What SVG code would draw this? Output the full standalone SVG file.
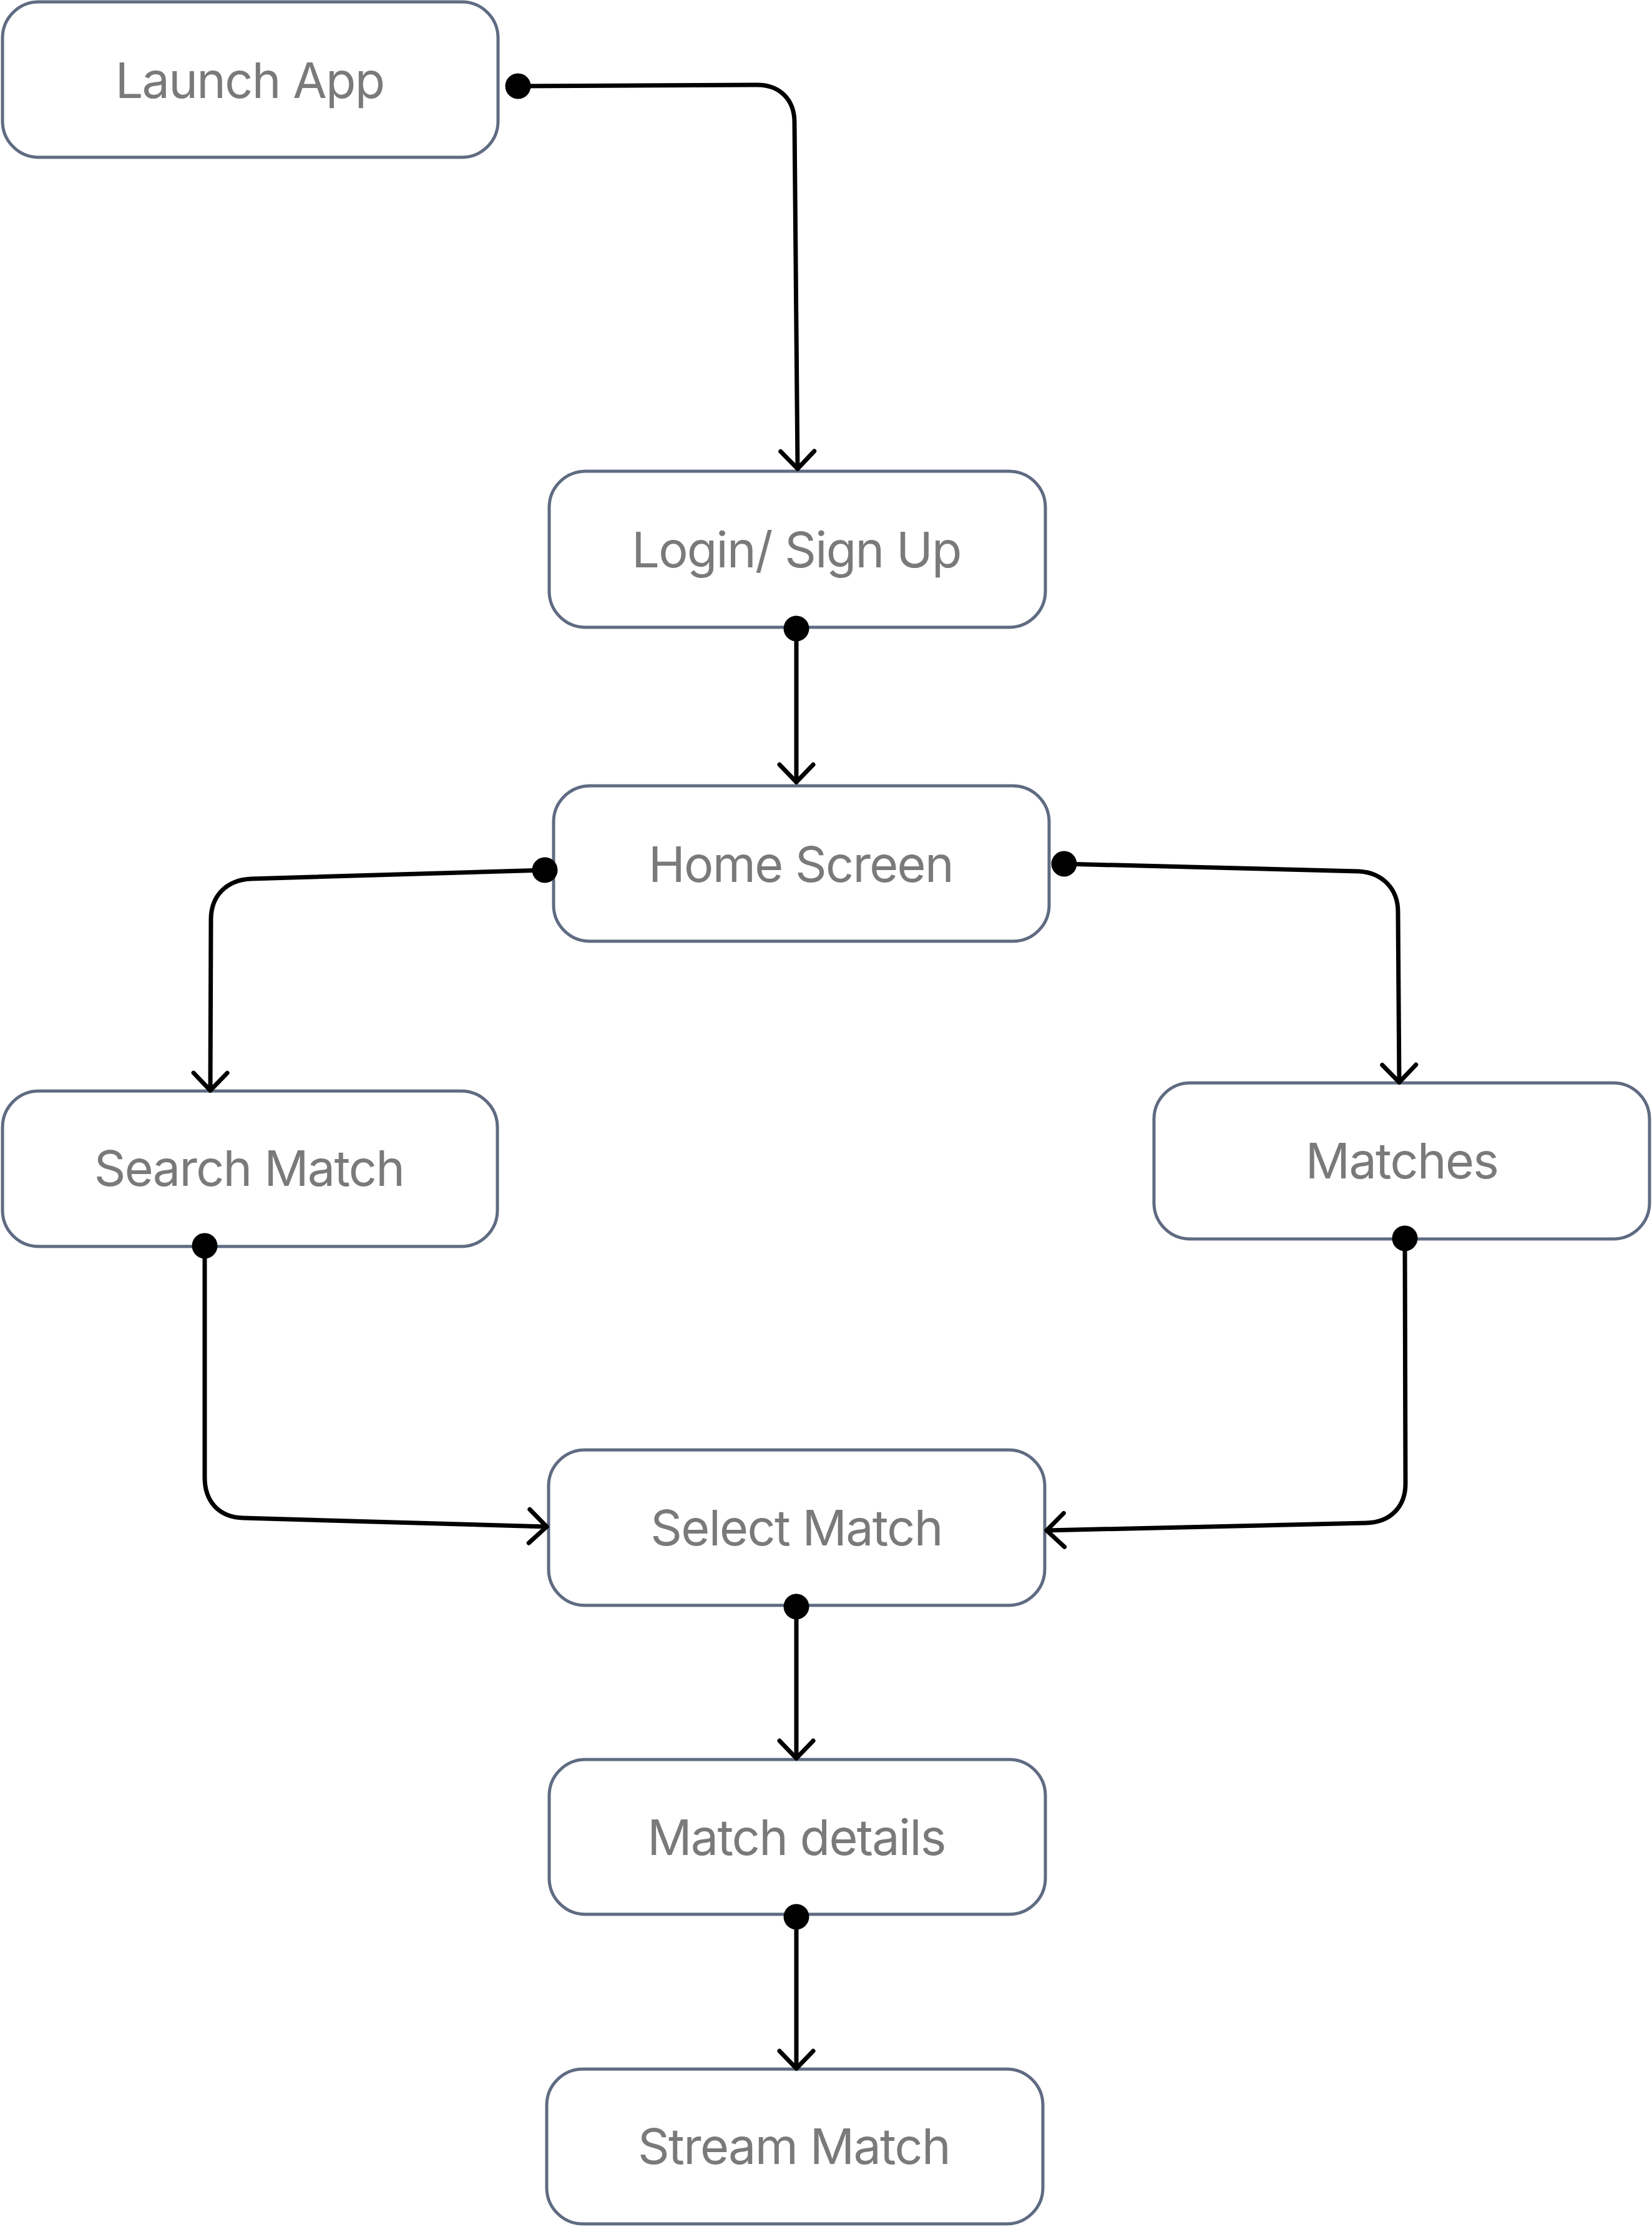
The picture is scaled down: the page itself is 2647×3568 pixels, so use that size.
<svg xmlns="http://www.w3.org/2000/svg" width="2647" height="3568" viewBox="0 0 2647 3568">
<style>
.box{fill:#ffffff;stroke:#5F6B82;stroke-width:5}
.lbl{font-family:Inter,"Liberation Sans",sans-serif;font-size:79px;letter-spacing:-1.7px;fill:#7A7A7A;text-anchor:middle}
.edge{fill:none;stroke:#000000;stroke-width:7;stroke-linecap:round;stroke-linejoin:round;marker-start:url(#dot);marker-end:url(#arrow)}
</style>
<defs>
<marker id="arrow" markerUnits="userSpaceOnUse" markerWidth="60" markerHeight="60" viewBox="-40 -30 50 60" refX="0" refY="0" orient="auto" overflow="visible">
<path d="M-28,-27 L0,0 L-28,27" fill="none" stroke="#000000" stroke-width="7" stroke-linecap="round" stroke-linejoin="round"/>
</marker>
<marker id="dot" markerUnits="userSpaceOnUse" markerWidth="44" markerHeight="44" viewBox="-22 -22 44 44" refX="0" refY="0" orient="auto" overflow="visible">
<circle cx="0" cy="0" r="20.5" fill="#000000"/>
</marker>
</defs>
<g id="nodes">
<g id="launch-app"><rect class="box" x="4" y="3" width="794" height="249" rx="58"/><text class="lbl" x="400" y="157">Launch App</text></g>
<g id="login-signup"><rect class="box" x="880" y="755" width="795" height="250" rx="58"/><text class="lbl" x="1276" y="909">Login/ Sign Up</text></g>
<g id="home-screen"><rect class="box" x="887" y="1259" width="794" height="249" rx="58"/><text class="lbl" x="1283" y="1413">Home Screen</text></g>
<g id="search-match"><rect class="box" x="4" y="1748" width="793" height="249" rx="58"/><text class="lbl" x="399" y="1900">Search Match</text></g>
<g id="matches"><rect class="box" x="1849" y="1735" width="794" height="250" rx="58"/><text class="lbl" x="2246" y="1888">Matches</text></g>
<g id="select-match"><rect class="box" x="879" y="2323" width="795" height="249" rx="58"/><text class="lbl" x="1276" y="2476">Select Match</text></g>
<g id="match-details"><rect class="box" x="880" y="2819" width="795" height="248" rx="58"/><text class="lbl" x="1276" y="2972">Match details</text></g>
<g id="stream-match"><rect class="box" x="876" y="3315" width="795" height="248" rx="58"/><text class="lbl" x="1272" y="3467">Stream Match</text></g>
</g>
<g id="connectors">
<path class="edge" d="M830,138 L1213,136 C1250,136 1273,160 1273,196 L1278,751"/>
<path class="edge" d="M1276,1007 L1276,1253"/>
<path class="edge" d="M873,1394 L402,1408 C362,1410 338,1436 338,1473 L337,1747"/>
<path class="edge" d="M1705,1384 L2177,1396 C2215,1398 2240,1424 2240,1461 L2242,1734"/>
<path class="edge" d="M328,1996 L328,2367 C328,2405 350,2431 390,2432 L876,2446"/>
<path class="edge" d="M2251,1984 L2252,2377 C2252,2414 2228,2439 2189,2440 L1677,2452"/>
<path class="edge" d="M1276,2574 L1276,2817"/>
<path class="edge" d="M1276,3071 L1276,3314"/>
</g>
</svg>
